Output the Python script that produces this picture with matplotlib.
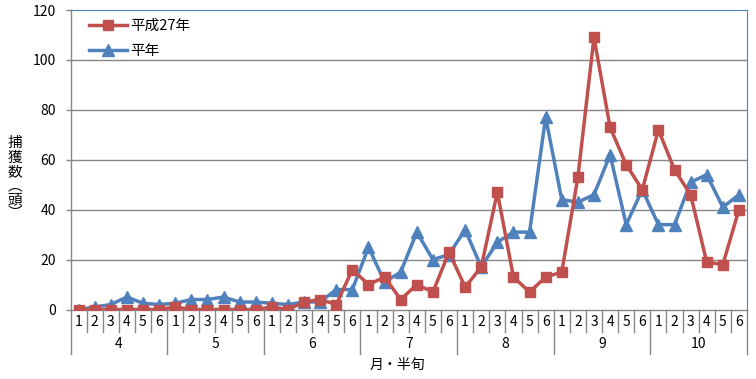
import matplotlib.pyplot as plt
import matplotlib.transforms as mtransforms

plt.rcParams['font.family'] = ['Noto Sans CJK JP', 'DejaVu Sans']

# 月・半旬
months = ['4', '5', '6', '7', '8', '9', '10']
half_labels = ['1', '2', '3', '4', '5', '6']

# 平成27年
h27 = [0, 0, 0, 0, 0, 0,
       1, 0, 0, 0, 0, 0,
       1, 0, 3, 4, 2, 16,
       10, 13, 4, 10, 7, 23,
       9, 17, 47, 13, 7, 13,
       15, 53, 109, 73, 58, 48,
       72, 56, 46, 19, 18, 40]

# 平年
normal = [0, 1, 2, 5, 2.5, 2,
          2.5, 4, 4, 5, 3, 3,
          2.5, 2, 3, 3, 8, 8,
          25, 11, 15, 31, 20, 22,
          32, 17, 27, 31, 31, 77,
          44, 43, 46, 62, 34, 48,
          34, 34, 51, 54, 41, 46]

red = '#C0504D'
blue = '#4F81BD'
grid_c = '#878787'

W, H = 756, 379
fig = plt.figure(figsize=(W / 100, H / 100), dpi=100)
x0, x1, y0, y1 = 70.5, 747, 309.5, 10
ax = fig.add_axes([x0 / W, (H - y0) / H, (x1 - x0) / W, (y0 - y1) / H])

xs = list(range(len(h27)))
ax.plot(xs, h27, color=red, lw=2.5, marker='s', ms=6.5, label='平成27年', zorder=4)
ax.plot(xs, normal, color=blue, lw=2.5, marker='^', ms=8, label='平年', zorder=3)

ax.set_xlim(-0.5, len(xs) - 0.5)
ax.set_ylim(0, 120)
ax.set_yticks(range(0, 121, 20))
for v in range(20, 101, 20):
    ax.axhline(v, color=grid_c, lw=1.0, zorder=1)

for s in ['top', 'right']:
    ax.spines[s].set_color(blue)
    ax.spines[s].set_linewidth(0.8)
ax.spines['left'].set_color(grid_c)
ax.spines['bottom'].set_color(grid_c)
ax.spines['left'].set_linewidth(1.0)
ax.spines['bottom'].set_linewidth(1.0)

ax.tick_params(axis='y', length=3.5, width=1.0, color=grid_c, pad=7, labelsize=10)
ax.set_xticks([])

# category table under the axis
ph = y0 - y1
trans = mtransforms.blended_transform_factory(ax.transData, ax.transAxes)
for k in range(len(xs) + 1):
    bottom = -44 / ph if k % 6 == 0 else -22.5 / ph
    ax.plot([k - 0.5, k - 0.5], [0, bottom], color=grid_c, lw=1.0,
            transform=trans, clip_on=False)
for i in xs:
    ax.text(i, -13 / ph, half_labels[i % 6], transform=trans,
            ha='center', va='center', fontsize=10)
for m, name in enumerate(months):
    ax.text(m * 6 + 2.5, -35 / ph, name, transform=trans,
            ha='center', va='center', fontsize=10)

fig.text(397 / W, 1 - 365 / H, '月・半旬', ha='center', va='center', fontsize=10)

# vertical y label
ylab = ['捕', '獲', '数', '︵', '頭', '︶']
ypos = [143, 158, 172, 186, 200, 213]
for ch, yy in zip(ylab, ypos):
    fig.text(15 / W, 1 - yy / H, ch, ha='center', va='center', fontsize=10.5)

ax.legend(loc='upper left', bbox_to_anchor=(0.015, 1.0), frameon=False,
          fontsize=10.5, handlelength=2.6, handletextpad=0.2, labelspacing=0.75,
          borderaxespad=0.2)

fig.savefig('out.png', dpi=100)
